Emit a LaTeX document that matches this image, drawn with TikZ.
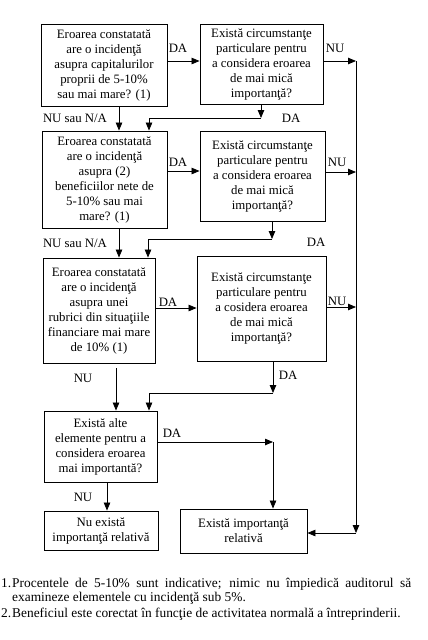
\documentclass[tikz,border=0pt]{standalone}
\usepackage{fontspec}
\setmainfont{Liberation Serif}
\usetikzlibrary{arrows.meta}
\newcommand{\boxfont}{\fontsize{12.8}{15}\selectfont}
\newcommand{\notefont}{\fontsize{13.4}{15}\selectfont}
\begin{document}
\begin{tikzpicture}[x=1pt,y=-1pt,
  box/.style={draw,line width=0.9pt,align=center,inner sep=0pt,font=\boxfont},
  lbl/.style={font=\boxfont,inner sep=0pt},
  note/.style={font=\notefont,inner sep=0pt,anchor=base west},
  arr/.style={line width=0.8pt,-{Triangle[length=8pt,width=6.5pt]}},
  ln/.style={line width=0.8pt}]
\useasboundingbox (0,0) rectangle (428,640);

% boxes
\node[box,minimum width=126pt,minimum height=82pt] (A1) at (104,65)
  {Eroarea constatată\\are o incidenţă\\asupra capitalurilor\\proprii de 5-10\%\\sau mai mare? (1)};
\node[box,minimum width=123pt,minimum height=80pt] (B1) at (261.5,64)
  {Există circumstanţe\\particulare pentru\\a considera eroarea\\de mai mică\\importanţă?};
\node[box,minimum width=125pt,minimum height=97pt] (A2) at (104.5,179.5)
  {Eroarea constatată\\are o incidenţă\\asupra (2)\\beneficiilor nete de\\5-10\% sau mai\\mare? (1)};
\node[box,minimum width=125pt,minimum height=90pt] (B2) at (262.5,176)
  {Există circumstanţe\\particulare pentru\\a considera eroarea\\de mai mică\\importanţă?};
\node[box,minimum width=112pt,minimum height=105pt] (A3) at (99,310.5)
  {Eroarea constatată\\are o incidenţă\\asupra unei\\rubrici din situaţiile\\financiare mai mare\\de 10\% (1)};
\node[box,minimum width=129pt,minimum height=105pt] (B3) at (261.5,308.5)
  {Există circumstanţe\\particulare pentru\\a cosidera eroarea\\de mai mică\\importanţă?};
\node[box,minimum width=113pt,minimum height=71pt] (A4) at (100.5,446.5)
  {Există alte\\elemente pentru a\\considera eroarea\\mai importantă?};
\node[box,minimum width=114pt,minimum height=39pt] (C1) at (101,530.5)
  {Nu există\\importanţă relativă};
\node[box,minimum width=127pt,minimum height=44pt] (C2) at (243.5,531)
  {Există importanţă\\relativă};

% helper coordinates
\coordinate (rtop) at (356,61);
\coordinate (rbot) at (356,533);
\coordinate (j1) at (149,118);
\coordinate (j2) at (148,239);
\coordinate (j3) at (149,393);
\coordinate (j4) at (273,442);

% DA arrows to the right
\draw[arr] ([yshift=4pt]A1.east) -- ([yshift=4pt]A1.east -| B1.west);
\draw[arr] ([yshift=8.5pt]A2.east) -- ([yshift=8.5pt]A2.east -| B2.west);
\draw[arr] ([yshift=2.5pt]A3.east) -- ([yshift=2.5pt]A3.east -| B3.west);

% NU arrows to the right column
\draw[arr] ([yshift=3pt]B1.east) -- (rtop);
\draw[arr] ([yshift=4pt]B2.east) -- ([yshift=4pt]B2.east -| rtop);
\draw[arr] ([yshift=1.5pt]B3.east) -- ([yshift=1.5pt]B3.east -| rtop);
\draw[arr] (rtop) -- (rbot);
\draw[arr] (rbot) -- (rbot -| C2.east);

% NU sau N/A arrows down
\draw[arr] ([xshift=15pt]A1.south) -- ([xshift=15pt]A1.south |- A2.north);
\draw[arr] ([xshift=14.5pt]A2.south) -- ([xshift=14.5pt]A2.south |- A3.north);
\draw[arr] ([xshift=17pt,yshift=-5pt]A3.south) -- ([xshift=17pt]A3.south |- A4.north);
\draw[arr] ([xshift=6.5pt]A4.south) -- ([xshift=6.5pt]A4.south |- C1.north);

% DA arrows down from right boxes
\draw[arr] ([xshift=-0.5pt]B1.south) -- ([xshift=-0.5pt]B1.south |- j1);
\draw[arr] ([xshift=-0.5pt]B1.south |- j1) -- (j1) -- (j1 |- A2.north);
\draw[arr] ([xshift=9.5pt]B2.south) -- ([xshift=9.5pt]B2.south |- j2);
\draw[arr] ([xshift=9.5pt]B2.south |- j2) -- (j2) -- (j2 |- A3.north);
\draw[arr] ([xshift=11.5pt]B3.south) -- ([xshift=11.5pt]B3.south |- j3);
\draw[arr] ([xshift=11.5pt]B3.south |- j3) -- (j3) -- (j3 |- A4.north);
\draw[arr] ([yshift=4.5pt]A4.east) -- (j4);
\draw[arr] (j4) -- (j4 |- C2.north);

% labels
\node[lbl] (l1) at (178,48) {DA};
\node[lbl] (l2) at (335,48) {NU};
\node[lbl] (l3) at (75,118) {NU sau N/A};
\node[lbl] (l4) at (291,118) {DA};
\node[lbl] (l5) at (178,162) {DA};
\node[lbl] (l6) at (337,162) {NU};
\node[lbl] (l7) at (75,243) {NU sau N/A};
\node[lbl] (l8) at (316,242) {DA};
\node[lbl] (l9) at (168,302) {DA};
\node[lbl] (l10) at (337,301) {NU};
\node[lbl] (l11) at (83,378) {NU};
\node[lbl] (l12) at (288,375) {DA};
\node[lbl] (l13) at (172,433) {DA};
\node[lbl] (l14) at (83,497) {NU};

% footnotes
\node[note] (n1) at (1,587) {1.};
\node[note] (t1) at (12,587) {\makebox[399pt][s]{Procentele de 5-10\% sunt indicative; nimic nu împiedică auditorul să}};
\node[note] (t2) at (12,601) {examineze elementele cu incidenţă sub 5\%.};
\node[note] (n2) at (1,617) {2.};
\node[note] (t3) at (12,617) {Beneficiul este corectat în funcţie de activitatea normală a întreprinderii.};
\end{tikzpicture}
\end{document}
